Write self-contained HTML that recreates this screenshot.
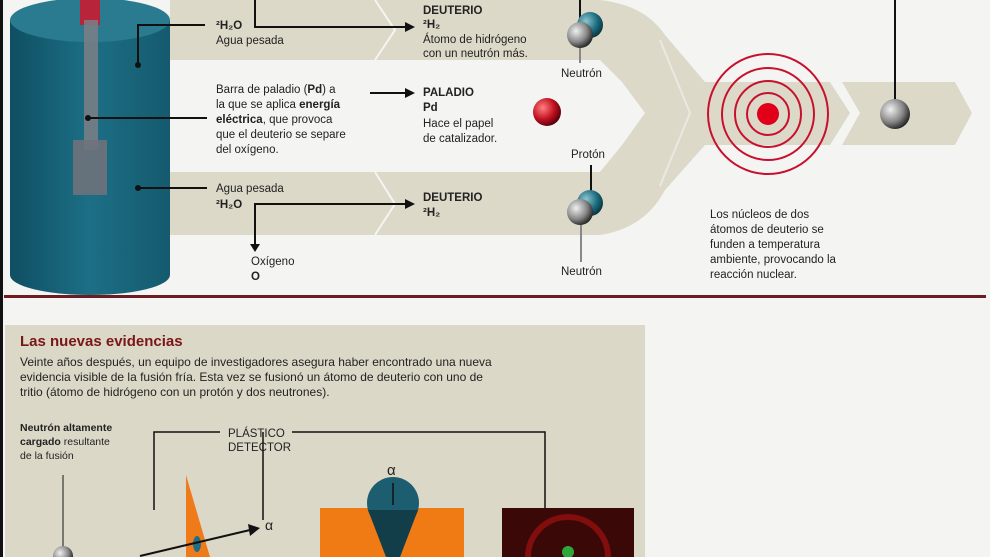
<!DOCTYPE html>
<html><head><meta charset="utf-8"><style>
html,body{margin:0;padding:0;width:990px;height:557px;overflow:hidden;background:#f4f4f2}
svg{display:block}
text{font-family:"Liberation Sans",sans-serif;fill:#222}
.b{font-weight:bold}
</style></head><body>
<svg width="990" height="557" viewBox="0 0 990 557" xmlns="http://www.w3.org/2000/svg">
<defs>
<linearGradient id="cyl" x1="0" x2="1"><stop offset="0" stop-color="#0f4f62"/><stop offset="0.5" stop-color="#1c6f86"/><stop offset="1" stop-color="#155a6e"/></linearGradient>
<radialGradient id="gray" cx="0.35" cy="0.35" r="0.7"><stop offset="0" stop-color="#f0f0f0"/><stop offset="0.6" stop-color="#888"/><stop offset="1" stop-color="#222"/></radialGradient>
<radialGradient id="teal" cx="0.35" cy="0.35" r="0.7"><stop offset="0" stop-color="#8fc4cf"/><stop offset="0.6" stop-color="#1e6f82"/><stop offset="1" stop-color="#0a3440"/></radialGradient>
<radialGradient id="red" cx="0.35" cy="0.35" r="0.7"><stop offset="0" stop-color="#ff8080"/><stop offset="0.6" stop-color="#c01020"/><stop offset="1" stop-color="#50000a"/></radialGradient>
</defs>
<rect x="0" y="0" width="990" height="557" fill="#f4f4f2"/>
<!-- bands -->
<path d="M170 0 H600 Q645 5 665 35 L705 82 H830 L850 113 L830 145 H705 L665 190 Q645 228 600 235 H170 V172 H600 L622 145 L645 113 L622 82 L600 60 H170 Z" fill="#ddd9c9"/>
<g stroke="#f4f4f2" stroke-width="2" fill="none">
<path d="M375 0 L395 30 L375 60"/><path d="M375 172 L395 204 L375 235"/>
<path d="M660 40 L690 113 L660 186" opacity="0.6"/>
</g>
<path d="M842 82 H955 L972 113 L955 145 H842 L860 113 Z" fill="#ddd9c9"/>
<!-- cylinder -->
<path d="M10 20 V275 A80 20 0 0 0 170 275 V20 Z" fill="url(#cyl)"/>
<ellipse cx="90" cy="20" rx="80" ry="22" fill="#2a7b90"/>
<rect x="80" y="0" width="20" height="25" fill="#b8243a"/>
<rect x="84" y="20" width="14" height="130" fill="#7c7f86" opacity="0.85"/>
<rect x="73" y="140" width="34" height="55" fill="#6f727a" opacity="0.9"/>
<!-- leaders -->
<g stroke="#111" stroke-width="2" fill="none">
<path d="M138 65 V25 H205"/><path d="M88 118 H207"/><path d="M138 188 H207"/>
<path d="M255 0 V27 H405"/><path d="M255 246 V204 H405"/><path d="M370 93 H405"/>
<path d="M895 0 V113"/>
</g>
<g fill="#111"><circle cx="138" cy="65" r="3"/><circle cx="138" cy="188" r="3"/><circle cx="88" cy="118" r="3"/>
<path d="M405 22 L415 27 L405 32Z"/><path d="M405 199 L415 204 L405 209Z"/><path d="M405 88 L415 93 L405 98Z"/><path d="M250 244 L260 244 L255 252Z"/></g>
<!-- texts -->
<g font-size="11.5">
<text x="216" y="29" class="b">²H₂O</text>
<text x="216" y="44">Agua pesada</text>
<text x="423" y="14" class="b">DEUTERIO</text>
<text x="423" y="28" class="b">²H₂</text>
<text x="423" y="43">Átomo de hidrógeno</text>
<text x="423" y="57">con un neutrón más.</text>
<text x="216" y="93">Barra de paladio (<tspan class="b">Pd</tspan>) a</text>
<text x="216" y="108">la que se aplica <tspan class="b">energía</tspan></text>
<text x="216" y="123"><tspan class="b">eléctrica</tspan>, que provoca</text>
<text x="216" y="138">que el deuterio se separe</text>
<text x="216" y="153">del oxígeno.</text>
<text x="423" y="96" class="b">PALADIO</text>
<text x="423" y="111" class="b">Pd</text>
<text x="423" y="127">Hace el papel</text>
<text x="423" y="142">de catalizador.</text>
<text x="216" y="192">Agua pesada</text>
<text x="216" y="208" class="b">²H₂O</text>
<text x="423" y="201" class="b">DEUTERIO</text>
<text x="423" y="216" class="b">²H₂</text>
<text x="251" y="265">Oxígeno</text>
<text x="251" y="280" class="b">O</text>
<text x="561" y="77">Neutrón</text>
<text x="571" y="158">Protón</text>
<text x="561" y="275">Neutrón</text>
<text x="710" y="218">Los núcleos de dos</text>
<text x="710" y="233">átomos de deuterio se</text>
<text x="710" y="248">funden a temperatura</text>
<text x="710" y="263">ambiente, provocando la</text>
<text x="710" y="278">reacción nuclear.</text>
</g>
<!-- atoms -->
<line x1="580" y1="0" x2="580" y2="20" stroke="#111" stroke-width="2"/>
<line x1="580" y1="40" x2="580" y2="63" stroke="#888" stroke-width="2"/>
<line x1="591" y1="165" x2="591" y2="195" stroke="#111" stroke-width="2"/>
<line x1="581" y1="215" x2="581" y2="262" stroke="#888" stroke-width="2"/>
<circle cx="590" cy="25" r="13" fill="url(#teal)"/><circle cx="580" cy="35" r="13" fill="url(#gray)"/>
<circle cx="590" cy="203" r="13" fill="url(#teal)"/><circle cx="580" cy="212" r="13" fill="url(#gray)"/>
<circle cx="547" cy="112" r="14" fill="url(#red)"/>
<circle cx="895" cy="114" r="15" fill="url(#gray)"/>
<g fill="none" stroke="#c8102e" stroke-width="2"><circle cx="768" cy="114" r="60"/><circle cx="768" cy="114" r="46"/><circle cx="768" cy="114" r="33"/><circle cx="768" cy="114" r="21"/></g>
<circle cx="768" cy="114" r="11" fill="#e0001a"/>
<!-- divider -->
<rect x="4" y="295" width="982" height="3" fill="#6d1c22"/>
<rect x="0" y="0" width="3" height="557" fill="#111"/>
<!-- bottom panel -->
<rect x="5" y="325" width="640" height="232" fill="#dcd8c8"/>
<text x="20" y="346" font-size="15" class="b" style="fill:#7a1616">Las nuevas evidencias</text>
<g font-size="12">
<text x="20" y="366">Veinte años después, un equipo de investigadores asegura haber encontrado una nueva</text>
<text x="20" y="381">evidencia visible de la fusión fría. Esta vez se fusionó un átomo de deuterio con uno de</text>
<text x="20" y="396">tritio (átomo de hidrógeno con un protón y dos neutrones).</text>
</g>
<text x="20" y="431" font-size="10.5"><tspan class="b">Neutrón altamente</tspan></text>
<text x="20" y="445" font-size="10.5"><tspan class="b">cargado</tspan> resultante</text>
<text x="20" y="459" font-size="10.5">de la fusión</text>
<text x="228" y="437" font-size="11.5">PLÁSTICO</text>
<text x="228" y="451" font-size="11.5">DETECTOR</text>
<g stroke="#111" stroke-width="1.5" fill="none">
<path d="M154 510 V432 H220"/><path d="M292 432 H545 V508"/><path d="M263 432 V520"/>
</g>
<line x1="63" y1="475" x2="63" y2="557" stroke="#555" stroke-width="1.5"/>
<path d="M186 475 L210 557 H186 Z" fill="#ef7a1a"/>
<ellipse cx="197" cy="544" rx="4" ry="8" fill="#1f6f84"/>
<line x1="140" y1="556" x2="250" y2="530" stroke="#111" stroke-width="2"/>
<path d="M248 524 L260 528 L250 536Z" fill="#111"/>
<text x="265" y="530" font-size="14">α</text>
<rect x="320" y="508" width="144" height="49" fill="#f07a14"/>
<circle cx="393" cy="503" r="26" fill="#1c5e70"/>
<path d="M368 510 L418 510 L400 557 H386 Z" fill="#123e4a"/>
<line x1="393" y1="483" x2="393" y2="505" stroke="#111" stroke-width="1.5"/>
<text x="387" y="475" font-size="15">α</text>
<rect x="502" y="508" width="132" height="49" fill="#3b0808"/>
<circle cx="568" cy="557" r="40" fill="none" stroke="#a01010" stroke-width="6" opacity="0.7"/>
<circle cx="568" cy="552" r="6" fill="#2ea83a"/>
<circle cx="63" cy="556" r="10" fill="url(#gray)"/>
</svg>
</body></html>
